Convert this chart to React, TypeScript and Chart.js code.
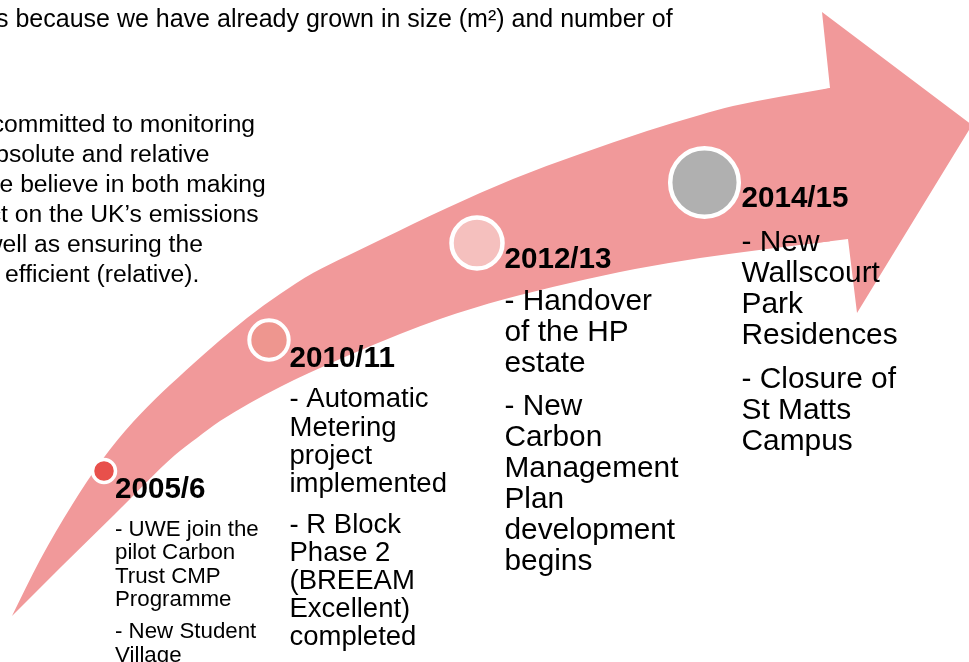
import React, { useEffect, useRef } from 'react';
import { Chart, registerables } from 'chart.js';

Chart.register(...registerables);

// ---- Arrow outline (slide coordinates, y grows downwards) ----
const upperEdgeX = [12, 40, 72, 102, 133, 193, 247, 280, 313, 347, 380, 447, 513, 580, 647, 700, 733, 830];
const upperEdgeY = [616, 560, 505, 460, 422, 364, 318, 294, 273, 256, 240, 208, 179, 154, 131, 115, 106, 88];
const lowerEdgeX = [12, 62, 115, 175, 197, 220, 280, 340, 400, 440, 505, 570, 635, 700, 848];
const lowerEdgeY = [616, 566, 514, 455, 438, 421, 387, 359, 334, 319, 299, 283, 269, 258, 239];
const headX = [830, 822, 972, 857, 848, 800, 800];
const headY = [88, 12, 125, 313, 239, 245, 96];

// ---- Milestones ----
const milestoneYears = ['2005/6', '2010/11', '2012/13', '2014/15'];
const milestoneX = [104, 269, 477, 704.5];
const milestoneY = [471, 340, 243, 182.5];
const milestoneRadius = [11.5, 19.7, 25.5, 34.3];
const milestoneColors = ['#E8504B', '#EE968F', '#F5C0BE', '#B0B0B0'];

const notes2005 = [['- UWE join the', 'pilot Carbon', 'Trust CMP', 'Programme'], ['- New Student', 'Village']];
const notes2010 = [['- Automatic', 'Metering', 'project', 'implemented'], ['- R Block', 'Phase 2', '(BREEAM', 'Excellent)', 'completed']];
const notes2012 = [['- Handover', 'of the HP', 'estate'], ['- New', 'Carbon', 'Management', 'Plan', 'development', 'begins']];
const notes2014 = [['- New', 'Wallscourt', 'Park', 'Residences'], ['- Closure of', 'St Matts', 'Campus']];
const milestoneNotes = [notes2005, notes2010, notes2012, notes2014];

// ---- Intro text (partly cut off at the slide edge) ----
const headerLine = 's because we have already grown in size (m²) and number of';
const introHidden = ['c', 'ab', 'W', 'impac', '(absolute) as w', 'University is '];
const introShown = ['ommitted to monitoring', 'solute and relative', 'e believe in both making', 't on the UK’s emissions', 'ell as ensuring the', 'efficient (relative).'];

// ---- Layout / style (not data) ----
const FONT = '"Liberation Sans", Arial, Helvetica, sans-serif';
const PINK = '#F1999A';
const introStartX = [4, 9, 0, 1, 2.5, 5];
const introLayout = { firstBase: 132, lineH: 30, size: 24.7 };
const headerLayout = { x: -4, base: 27, size: 25 };
const blockLayout = [
  { x: 115, yearBase: 498, size: 22.3, first: 535.7, lh: 23.4, gap: 9 },
  { x: 289.5, yearBase: 366.7, size: 27.5, first: 407.3, lh: 28.2, gap: 12.4 },
  { x: 504.5, yearBase: 268.3, size: 29.8, first: 310, lh: 31, gap: 12.3 },
  { x: 741.5, yearBase: 207.3, size: 29.9, first: 250.7, lh: 31, gap: 13 },
];
const YEAR_SIZE = 29.6;

const textPlugin = {
  id: 'slideText',
  afterDatasetsDraw(chart: any) {
    const ctx: CanvasRenderingContext2D = chart.ctx;
    const xs = chart.scales.x;
    const ys = chart.scales.y;
    const px = (v: number) => xs.getPixelForValue(v);
    const py = (v: number) => ys.getPixelForValue(v);
    ctx.save();
    ctx.fillStyle = '#000';
    ctx.textBaseline = 'alphabetic';
    ctx.textAlign = 'left';

    ctx.font = `${headerLayout.size}px ${FONT}`;
    ctx.fillText(headerLine, px(headerLayout.x), py(headerLayout.base));

    ctx.font = `${introLayout.size}px ${FONT}`;
    introShown.forEach((shown, i) => {
      const hidden = introHidden[i];
      const off = ctx.measureText(hidden).width;
      ctx.fillText(hidden + shown, px(introStartX[i]) - off, py(introLayout.firstBase + i * introLayout.lineH));
    });

    milestoneYears.forEach((year, i) => {
      const L = blockLayout[i];
      ctx.font = `bold ${YEAR_SIZE}px ${FONT}`;
      ctx.fillText(year, px(L.x), py(L.yearBase));
      ctx.font = `${L.size}px ${FONT}`;
      let y = L.first;
      milestoneNotes[i].forEach((para, pi) => {
        if (pi > 0) y += L.gap;
        para.forEach((line) => {
          ctx.fillText(line, px(L.x), py(y));
          y += L.lh;
        });
      });
    });
    ctx.restore();
  },
};

export default function App() {
  const ref = useRef<HTMLCanvasElement>(null);
  useEffect(() => {
    const upper = upperEdgeX.map((x, i) => ({ x, y: upperEdgeY[i] }));
    const lower = lowerEdgeX.map((x, i) => ({ x, y: lowerEdgeY[i] }));
    const head = headX.map((x, i) => ({ x, y: headY[i] }));
    const dots = milestoneX.map((x, i) => ({ x, y: milestoneY[i] }));
    const hidden = 'rgba(0,0,0,0)';

    const chart = new Chart(ref.current as HTMLCanvasElement, {
      type: 'line',
      data: {
        datasets: [
          {
            label: 'milestones',
            data: dots,
            showLine: false,
            pointRadius: milestoneRadius,
            pointHoverRadius: milestoneRadius,
            pointBackgroundColor: milestoneColors,
            pointBorderColor: '#FFFFFF',
            pointBorderWidth: [3.5, 4, 4.5, 4.5],
            pointHoverBorderWidth: [3.5, 4, 4.5, 4.5],
            clip: false,
            order: 0,
          } as any,
          {
            label: 'arrow head',
            data: head,
            fill: 'shape',
            backgroundColor: PINK,
            borderColor: hidden,
            borderWidth: 0,
            pointRadius: 0,
            tension: 0,
            order: 1,
          } as any,
          {
            label: 'arrow lower edge',
            data: lower,
            fill: 3,
            backgroundColor: PINK,
            borderColor: hidden,
            borderWidth: 0,
            pointRadius: 0,
            cubicInterpolationMode: 'monotone',
            order: 2,
          } as any,
          {
            label: 'arrow upper edge',
            data: upper,
            fill: false,
            backgroundColor: PINK,
            borderColor: hidden,
            borderWidth: 0,
            pointRadius: 0,
            cubicInterpolationMode: 'monotone',
            order: 3,
          } as any,
        ],
      },
      options: {
        animation: false,
        responsive: false,
        devicePixelRatio: 1,
        events: [],
        layout: { padding: 0, autoPadding: false },
        scales: {
          x: { type: 'linear', min: 0, max: 969, display: false },
          y: { type: 'linear', min: 0, max: 662, reverse: true, display: false },
        },
        plugins: {
          legend: { display: false },
          tooltip: { enabled: false },
          title: { display: false },
        },
      } as any,
      plugins: [textPlugin],
    });
    return () => chart.destroy();
  }, []);

  return (
    <div style={{ position: 'absolute', left: 0, top: 0, width: 969, height: 662, background: '#fff' }}>
      <canvas ref={ref} width={969} height={662} style={{ display: 'block' }} />
    </div>
  );
}
